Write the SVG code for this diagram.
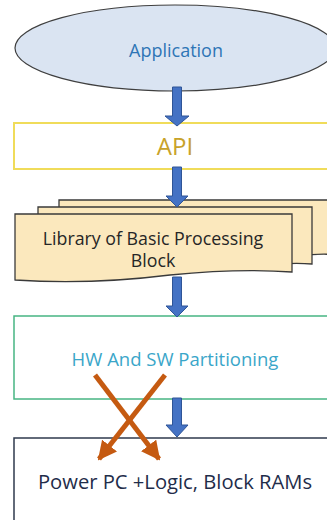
<svg xmlns="http://www.w3.org/2000/svg" width="327" height="520" viewBox="0 0 327 520">
  <defs>
    <style>
      .lbl { font-family: "Open Sans", "Noto Sans", "DejaVu Sans", sans-serif; text-anchor: middle; }
      .flow { fill: #4472c4; stroke: #2f5597; stroke-width: 1; }
      .cross { stroke: #c55a11; stroke-width: 5; fill: none; }
      .sheet { fill: #fbe8bd; stroke: #3a3a3a; stroke-width: 1.3; }
    </style>
    <marker id="orangeHead" viewBox="0 0 10 10" refX="9" refY="5" markerWidth="3.8" markerHeight="3.8" orient="auto" markerUnits="strokeWidth">
      <path d="M0,0 L10,5 L0,10 Z" fill="#c55a11"/>
    </marker>
  </defs>

  <rect width="327" height="520" fill="#ffffff"/>

  <!-- Application ellipse -->
  <g id="application">
    <ellipse cx="175" cy="48" rx="160" ry="43" fill="#dae4f2" stroke="#3f3f3f" stroke-width="1.2"/>
    <text class="lbl" x="176" y="57" font-size="18" fill="#2e75b6">Application</text>
  </g>

  <!-- API box -->
  <g id="api">
    <rect x="14" y="123" width="330" height="46" fill="#ffffff" stroke="#f0dc5a" stroke-width="2"/>
    <text class="lbl" x="175" y="155" font-size="24" fill="#c8a22a">API</text>
  </g>

  <!-- Library: stacked document sheets -->
  <g id="library">
    <path class="sheet" d="M59,200 L340,200 L340,255 Q320,253 300,256 L59,258 Z"/>
    <path class="sheet" d="M38,207 L312,207 L312,264 Q290,262 260,266 L38,266 Z"/>
    <path class="sheet" d="M15,214 L292,214 L292,272 Q240,268 170,275 Q90,285 15,280 Z"/>
    <text class="lbl" x="153" y="245" font-size="17.8" fill="#262626">Library of Basic Processing</text>
    <text class="lbl" x="153" y="267" font-size="17.8" fill="#262626">Block</text>
  </g>

  <!-- HW / SW partitioning box -->
  <g id="partitioning">
    <rect x="14" y="316" width="330" height="83" fill="#ffffff" stroke="#47b583" stroke-width="1.5"/>
    <text class="lbl" x="175" y="366" font-size="18.5" fill="#3aa6c9">HW And SW Partitioning</text>
  </g>

  <!-- Target platform box -->
  <g id="platform">
    <rect x="14" y="438" width="330" height="100" fill="#ffffff" stroke="#2f3a4d" stroke-width="1.5"/>
    <text class="lbl" x="175" y="489" font-size="20.2" fill="#1f2d4a">Power PC +Logic, Block RAMs</text>
  </g>

  <!-- Connectors -->
  <g id="connectors">
    <path class="flow" d="M172.5,87 L181.5,87 L181.5,116 L189,116 L177,126 L165,116 L172.5,116 Z"/>
    <path class="flow" d="M172.5,167 L181.5,167 L181.5,196 L188,196 L177,207 L166,196 L172.5,196 Z"/>
    <path class="flow" d="M172.5,277 L181.5,277 L181.5,306 L188,306 L177,317 L166,306 L172.5,306 Z"/>
    <path class="flow" d="M172.5,398 L181.5,398 L181.5,425 L188,425 L177,437 L166,425 L172.5,425 Z"/>
    <line class="cross" x1="95" y1="375" x2="159" y2="459" marker-end="url(#orangeHead)"/>
    <line class="cross" x1="165" y1="375" x2="99" y2="459" marker-end="url(#orangeHead)"/>
  </g>
</svg>
